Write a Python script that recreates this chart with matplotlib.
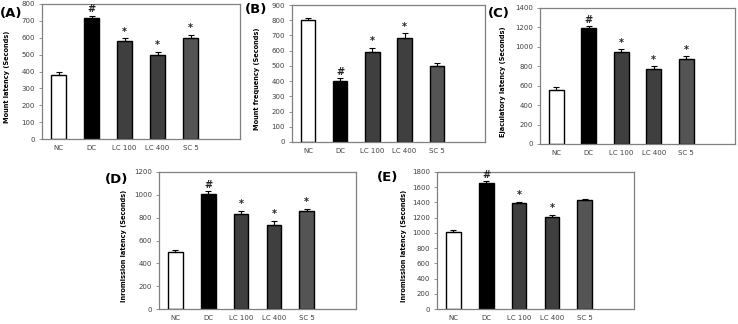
import numpy as np
import matplotlib.pyplot as plt

# -----------------------------
# data
# -----------------------------
groups = ['NC', 'DC', 'LC 100', 'LC 400', 'SC 5']

mount_latency = [380, 715, 583, 500, 600]
mount_latency_err = [15, 15, 15, 18, 18]
mount_latency_sig = ['', '#', '*', '*', '*']

mount_freq = [800, 400, 590, 680, 500]
mount_freq_err = [15, 20, 30, 35, 20]
mount_freq_sig = ['', '#', '*', '*', '']

ejac_latency = [560, 1195, 950, 770, 880]
ejac_latency_err = [25, 20, 25, 30, 25]
ejac_latency_sig = ['', '#', '*', '*', '*']

inrom_latency_d = [500, 1005, 830, 740, 860]
inrom_latency_d_err = [20, 25, 30, 35, 20]
inrom_latency_d_sig = ['', '#', '*', '*', '*']

inrom_latency_e = [1010, 1660, 1390, 1215, 1430]
inrom_latency_e_err = [25, 20, 20, 25, 20]
inrom_latency_e_sig = ['', '#', '*', '*', '']

# -----------------------------
# styling
# -----------------------------
bar_colors = ['white', 'black', '#3f3f3f', '#3f3f3f', '#545454']
spine_col = '#808080'
tick_col = '#404040'

W, H = 738, 324
fig = plt.figure(figsize=(W / 100, H / 100), dpi=100)

panels = [
    # label, values, errors, sig, ylabel, ymax, ystep,
    # box (left, top, right, bottom px), ylabel offset px, panel label offset (dx, dy) px
    ('(A)', mount_latency, mount_latency_err, mount_latency_sig,
     'Mount latency (Seconds)', 800, 100, (42, 4, 240, 139), 32, (20, 9)),
    ('(B)', mount_freq, mount_freq_err, mount_freq_sig,
     'Mount frequency (Seconds)', 900, 100, (292, 5, 485, 142), 32, (25, 5)),
    ('(C)', ejac_latency, ejac_latency_err, ejac_latency_sig,
     'Ejaculatory latency (Seconds)', 1400, 200, (540, 8, 735, 144), 34, (30, 5)),
    ('(D)', inrom_latency_d, inrom_latency_d_err, inrom_latency_d_sig,
     'Inromission latency (Seconds)', 1200, 200, (159, 172, 356, 309), 32, (31, 7)),
    ('(E)', inrom_latency_e, inrom_latency_e_err, inrom_latency_e_sig,
     'Inromission latency (Seconds)', 1800, 200, (437, 172, 634, 309), 30, (39, 6)),
]

x = np.arange(len(groups))

for label, vals, errs, sig, ylab, ymax, ystep, box, yl_off, lab_off in panels:
    l, t, r, b = box
    aw, ah = r - l, b - t
    ax = fig.add_axes([l / W, 1 - b / H, aw / W, ah / H])
    ax.bar(x, vals, width=0.45, color=bar_colors, edgecolor='black', linewidth=1.0,
           yerr=[np.zeros(len(errs)), errs], capsize=2.5,
           error_kw=dict(elinewidth=0.8, capthick=0.8, ecolor='black'))
    for xi, v, e, s in zip(x, vals, errs, sig):
        if s:
            ax.text(xi, v + e + ymax * 0.01, s, ha='center', va='bottom',
                    fontsize=7, fontweight='bold', color='#222222')
    ax.set_xlim(-0.5, 5.5)
    ax.set_ylim(0, ymax)
    ax.set_yticks(np.arange(0, ymax + 1, ystep))
    ax.set_xticks(x)
    ax.set_xticklabels(groups)
    ax.tick_params(axis='x', length=0, pad=4, labelsize=5, labelcolor=tick_col)
    ax.tick_params(axis='y', length=2, width=0.6, color=spine_col, pad=3,
                   labelsize=5, labelcolor=tick_col)
    for sp in ax.spines.values():
        sp.set_color(spine_col)
        sp.set_linewidth(0.9)
    ax.set_ylabel(ylab, fontsize=4.8, fontweight='bold')
    ax.yaxis.set_label_coords(-yl_off / aw, 0.46)
    ax.text(-lab_off[0] / aw, 1 - lab_off[1] / ah, label, transform=ax.transAxes,
            fontsize=9.5, fontweight='bold', ha='right', va='center')

fig.savefig('out.png', dpi=100)
